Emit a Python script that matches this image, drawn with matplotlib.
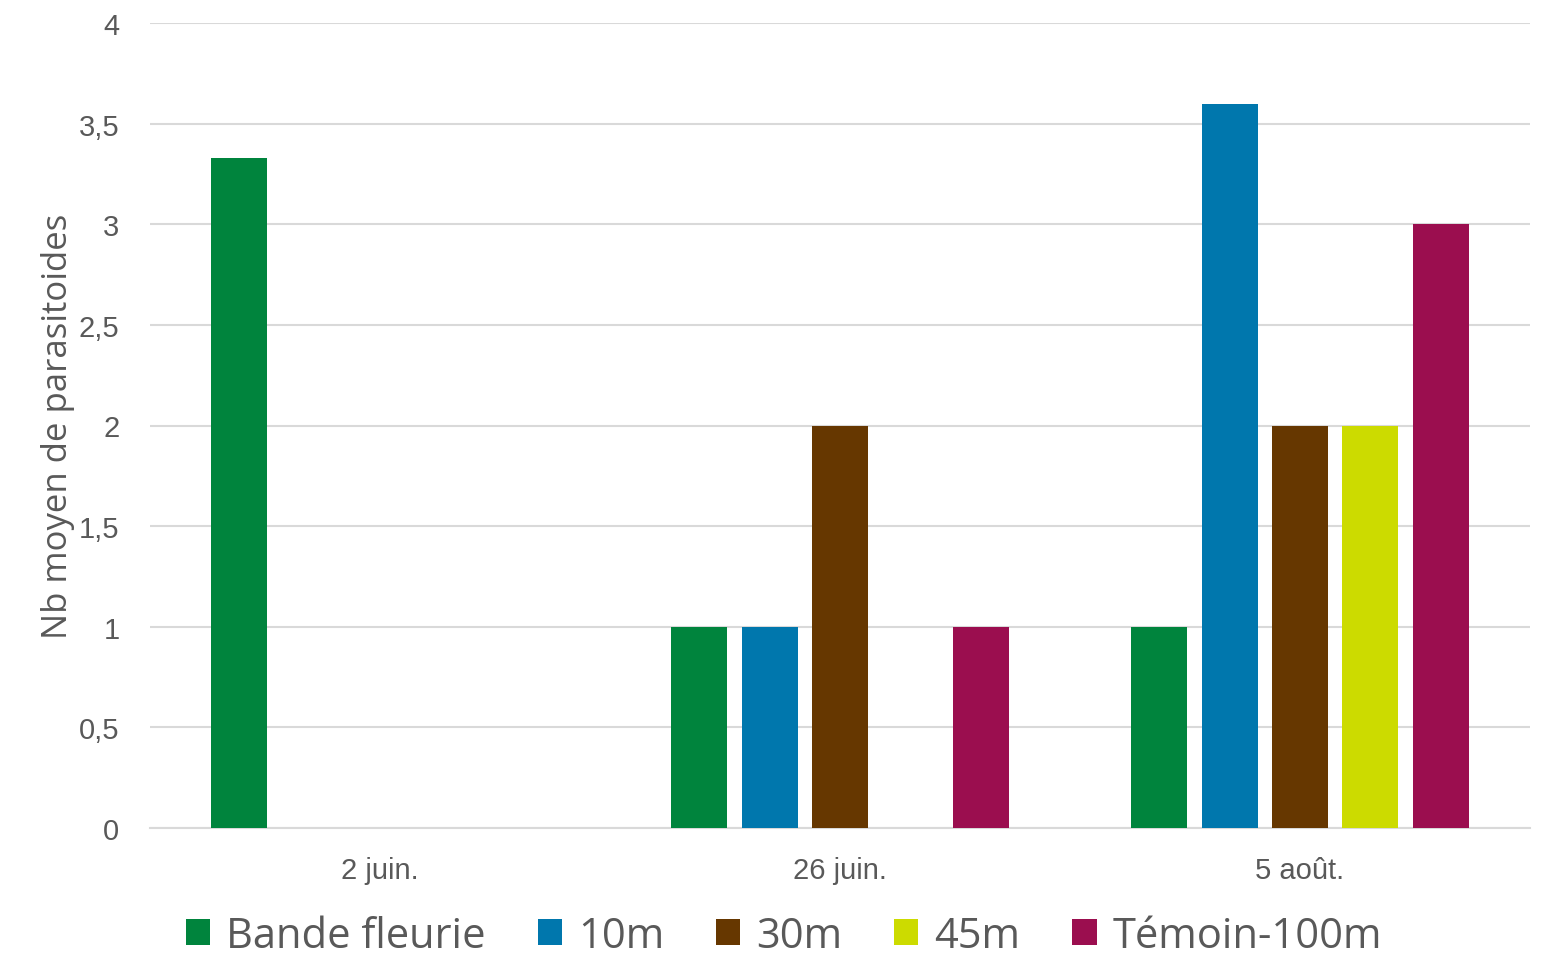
import matplotlib.pyplot as plt
import numpy as np

dates = ['2 juin.', '26 juin.', '5 août.']
series = ['Bande fleurie', '10m', '30m', '45m', 'Témoin-100m']
bande_fleurie = [3.33, 1, 1]
d10m = [0, 1, 3.6]
d30m = [0, 2, 2]
d45m = [0, 0, 2]
temoin_100m = [0, 1, 3]
colors = ['#00843D', '#0077AD', '#663700', '#CCDB00', '#9B0E4F']

values = [bande_fleurie, d10m, d30m, d45m, temoin_100m]

fig = plt.figure(figsize=(15.49, 9.62), dpi=100)
ax = fig.add_axes([150/1549, 133/962, 1380/1549, 805/962])

x = np.arange(len(dates))
step = 0.153
width = 0.122
for i, (name, vals, c) in enumerate(zip(series, values, colors)):
    ax.bar(x + (i - 2) * step, vals, width, color=c, label=name, zorder=3)

ax.set_xlim(-0.5, 2.5)
ax.set_ylim(0, 4)
ax.set_yticks(np.arange(0, 4.01, 0.5))
ax.set_yticklabels(['0', '0,5', '1', '1,5', '2', '2,5', '3', '3,5', '4'])
ax.set_xticks(x)
ax.set_xticklabels(dates)
ax.tick_params(axis='both', length=0, labelsize=21, labelcolor='#595959',
               labelfontfamily='Liberation Sans')
ax.tick_params(axis='y', pad=22)
ax.tick_params(axis='x', pad=20)
ax.grid(axis='y', color='#d9d9d9', linewidth=1.5, zorder=0)
for s in ['top', 'right', 'left']:
    ax.spines[s].set_visible(False)
ax.spines['bottom'].set_color('#d9d9d9')
ax.spines['bottom'].set_linewidth(1.5)

ax.set_ylabel('Nb moyen de parasitoides', fontsize=25, color='#595959',
              family='Open Sans', labelpad=3)

leg = fig.legend(loc='center', bbox_to_anchor=(784/1549, 1 - 937/962), ncol=5,
                 frameon=False, prop={'family': 'Open Sans', 'size': 30},
                 handlelength=0.58, handleheight=0.58, handletextpad=0.38,
                 columnspacing=1.25, labelcolor='#595959', borderpad=0.2)

fig.savefig('out.png', dpi=100)
